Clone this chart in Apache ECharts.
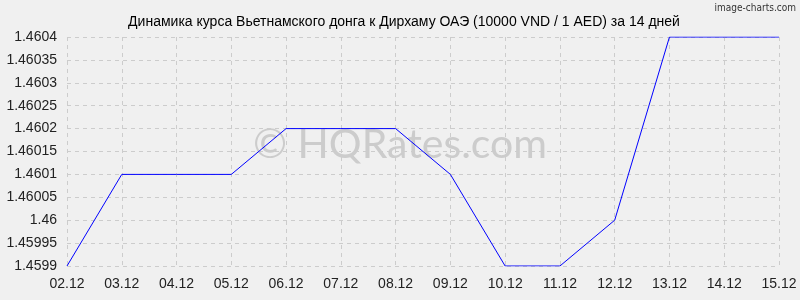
<!DOCTYPE html>
<html><head><meta charset="utf-8">
<script src="https://cdn.jsdelivr.net/npm/echarts@6/dist/echarts.min.js"></script>
<style>html,body{margin:0;padding:0;background:#f0f0f0}#c{width:800px;height:300px}</style>
</head><body><div id="c"></div>
<script>
const categories = ["02.12","03.12","04.12","05.12","06.12","07.12","08.12","09.12","10.12","11.12","12.12","13.12","14.12","15.12"];
const rates = [1.4599,1.4601,1.4601,1.4601,1.4602,1.4602,1.4602,1.4601,1.4599,1.4599,1.4600,1.4604,1.4604,1.4604];
const titleText = "Динамика курса Вьетнамского донга к Дирхаму ОАЭ (10000 VND / 1 AED) за 14 дней";
const yMin = 1.4599, yMax = 1.4604, yStep = 0.00005;

const chart = echarts.init(document.getElementById('c'), null, {renderer:'canvas'});
const font = "Arial, 'Liberation Sans', sans-serif";
const dashed = {show:true, lineStyle:{color:'#cccccc', type:[4,4], width:1}};
chart.setOption({
  backgroundColor:'#f0f0f0',
  animation:false,
  title:{text:titleText, left:399, textAlign:'center', top:10, textStyle:{fontFamily:font, fontSize:14, fontWeight:'normal', color:'#000'}},
  graphic:[
    {type:'text', left:'center', top:124, style:{text:'© HQRates.com', fontFamily:"Lato, 'Open Sans', sans-serif", fontSize:41, fill:'rgba(128,128,128,0.32)'}},
    {type:'text', right:4, top:3, style:{text:'image-charts.com', fontFamily:"'DejaVu Sans Condensed', 'Liberation Sans Narrow', sans-serif", fontSize:10, fill:'#333'}}
  ],
  grid:{left:67, right:21, top:37, bottom:34},
  xAxis:{type:'category', data:categories, boundaryGap:false,
    axisLine:{show:false}, axisTick:{show:false},
    axisLabel:{fontFamily:font, fontSize:14, color:'#222', margin:11, interval:0},
    splitLine:dashed},
  yAxis:{type:'value', min:yMin, max:yMax, interval:yStep,
    axisLine:{show:false}, axisTick:{show:false},
    axisLabel:{fontFamily:font, fontSize:14, color:'#222', margin:10,
      formatter:v=>String(parseFloat(v.toFixed(5)))},
    splitLine:dashed},
  series:[{type:'line', data:rates, symbol:'none', lineStyle:{color:'#0000ff', width:1}}]
});
</script></body></html>
